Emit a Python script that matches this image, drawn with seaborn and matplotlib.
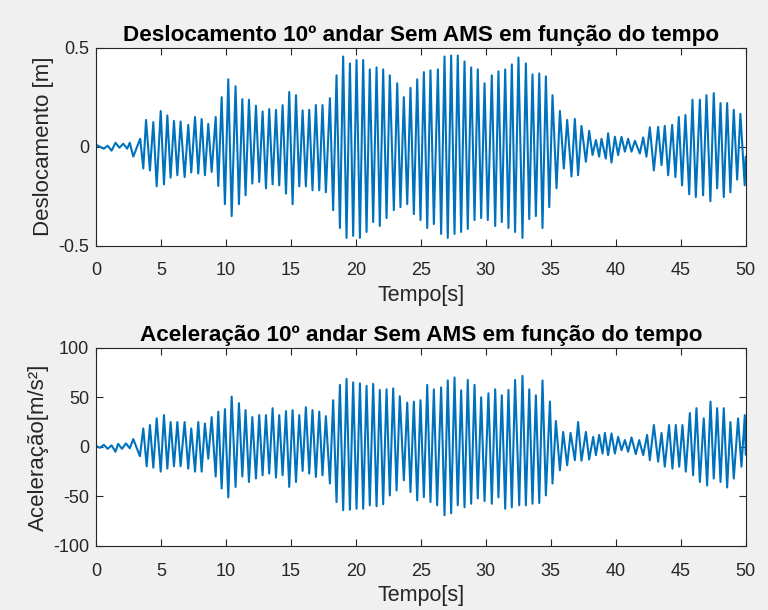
import numpy as np
import pandas as pd
import matplotlib
matplotlib.use("Agg")
import matplotlib.pyplot as plt
import seaborn as sns

# Extremes of the 10th-floor response (time [s], value), read in order along the record
desl_t = [
    0.0, 0.3, 0.6, 0.9, 1.2, 1.5, 1.8, 2.1, 2.4, 2.6, 2.87, 3.4, 3.64, 3.85,
    4.15, 4.41, 4.67, 4.98, 5.23, 5.49, 5.74, 6.0, 6.26, 6.51, 6.82, 7.1, 7.33, 7.62,
    7.87, 8.13, 8.38, 8.64, 8.9, 9.21, 9.41, 9.67, 9.92, 10.18, 10.44, 10.74, 11.0, 11.26,
    11.51, 11.77, 12.03, 12.31, 12.56, 12.82, 13.08, 13.33, 13.59, 13.85, 14.1, 14.36,
    14.62, 14.87, 15.13, 15.39, 15.64, 15.9, 16.15, 16.41, 16.66, 16.92, 17.18, 17.43,
    17.69, 18.0, 18.25, 18.51, 18.77, 19.02, 19.28, 19.54, 19.79, 20.05, 20.31, 20.56,
    20.82, 21.07, 21.33, 21.59, 21.84, 22.1, 22.36, 22.61, 22.92, 23.18, 23.43, 23.69,
    23.95, 24.2, 24.46, 24.72, 24.97, 25.23, 25.49, 25.74, 26.0, 26.31, 26.56, 26.82,
    27.07, 27.33, 27.59, 27.84, 28.1, 28.36, 28.61, 28.87, 29.13, 29.38, 29.64, 29.9,
    30.15, 30.46, 30.72, 30.97, 31.23, 31.49, 31.74, 32.0, 32.25, 32.51, 32.82, 33.08,
    33.34, 33.59, 33.85, 34.11, 34.36, 34.62, 34.88, 35.13, 35.44, 35.7, 36.0, 36.26,
    36.59, 36.85, 37.1, 37.36, 37.7, 37.95, 38.21, 38.47, 38.72, 38.9, 39.23, 39.41,
    39.67, 39.93, 40.18, 40.44, 40.7, 40.95, 41.21, 41.47, 41.85, 42.11, 42.36, 42.62,
    42.93, 43.26, 43.52, 43.77, 44.03, 44.34, 44.59, 44.85, 45.1, 45.36, 45.65, 45.9,
    46.16, 46.47, 46.72, 46.98, 47.28, 47.54, 47.8, 48.06, 48.31, 48.57, 48.82, 49.08,
    49.34, 49.59, 49.92, 50.0,
]
desl_v = [
    0.01, 0.0, -0.01, 0.005, -0.02, 0.02, -0.005, 0.015, -0.01, 0.02, -0.05, 0.04, -0.11, 0.135,
    -0.12, 0.124, -0.20, 0.18, -0.19, 0.158, -0.156, 0.13, -0.144, 0.127, -0.153, 0.11, -0.13, 0.15,
    -0.135, 0.14, -0.144, 0.115, -0.127, 0.15, -0.198, 0.25, -0.29, 0.34, -0.35, 0.305, -0.29, 0.24,
    -0.245, 0.237, -0.186, 0.207, -0.178, 0.178, -0.21, 0.19, -0.19, 0.186, -0.195, 0.21,
    -0.237, 0.276, -0.29, 0.26, -0.20, 0.183, -0.20, 0.186, -0.22, 0.21, -0.22, 0.21,
    -0.23, 0.245, -0.32, 0.36, -0.41, 0.455, -0.46, 0.42, -0.45, 0.437, -0.46, 0.437,
    -0.43, 0.39, -0.38, 0.40, -0.40, 0.39, -0.36, 0.36, -0.32, 0.32, -0.305, 0.25,
    -0.29, 0.297, -0.34, 0.34, -0.37, 0.376, -0.41, 0.385, -0.39, 0.39, -0.44, 0.455,
    -0.46, 0.46, -0.44, 0.46, -0.43, 0.43, -0.415, 0.40, -0.37, 0.39, -0.36, 0.32,
    -0.37, 0.36, -0.40, 0.38, -0.38, 0.39, -0.41, 0.415, -0.43, 0.45, -0.46, 0.42,
    -0.365, 0.365, -0.35, 0.37, -0.41, 0.355, -0.305, 0.26, -0.21, 0.18, -0.11, 0.135,
    -0.15, 0.14, -0.144, 0.105, -0.076, 0.08, -0.042, 0.034, -0.05, 0.04, -0.06, 0.068,
    -0.08, 0.05, -0.042, 0.05, -0.025, 0.04, -0.025, 0.03, -0.034, 0.047, -0.05, 0.098,
    -0.12, 0.10, -0.093, 0.105, -0.144, 0.11, -0.153, 0.15, -0.195, 0.16, -0.24, 0.237,
    -0.254, 0.237, -0.245, 0.26, -0.275, 0.27, -0.21, 0.22, -0.254, 0.22, -0.23, 0.186,
    -0.166, 0.166, -0.195, -0.05,
]

acel_t = [
    0.0, 0.3, 0.6, 0.9, 1.2, 1.5, 1.7, 2.0, 2.3, 2.6, 2.87, 3.38, 3.64, 3.9,
    4.15, 4.41, 4.67, 4.98, 5.23, 5.49, 5.74, 6.0, 6.26, 6.51, 6.82, 7.1, 7.33, 7.62,
    7.87, 8.13, 8.38, 8.64, 8.9, 9.21, 9.41, 9.67, 9.92, 10.18, 10.44, 10.74, 11.0, 11.26,
    11.51, 11.77, 12.03, 12.31, 12.56, 12.82, 13.08, 13.33, 13.59, 13.85, 14.1, 14.36,
    14.62, 14.87, 15.13, 15.39, 15.64, 15.9, 16.15, 16.41, 16.66, 16.92, 17.18, 17.43,
    17.69, 18.0, 18.25, 18.51, 18.77, 19.02, 19.28, 19.54, 19.79, 20.05, 20.31, 20.56,
    20.82, 21.07, 21.33, 21.59, 21.84, 22.1, 22.36, 22.61, 22.87, 23.13, 23.38, 23.69,
    23.95, 24.2, 24.46, 24.72, 24.97, 25.23, 25.49, 25.74, 26.0, 26.25, 26.56, 26.82,
    27.07, 27.33, 27.59, 27.84, 28.1, 28.36, 28.61, 28.87, 29.13, 29.38, 29.64, 29.9,
    30.2, 30.46, 30.72, 30.97, 31.23, 31.49, 31.74, 32.0, 32.25, 32.57, 32.82, 33.08,
    33.34, 33.59, 33.85, 34.11, 34.36, 34.62, 34.93, 35.13, 35.39, 35.7, 35.95, 36.26,
    36.52, 36.85, 37.1, 37.36, 37.7, 37.95, 38.26, 38.47, 38.72, 38.98, 39.16, 39.41,
    39.67, 39.93, 40.18, 40.44, 40.7, 40.95, 41.21, 41.54, 41.8, 42.11, 42.41, 42.62,
    42.93, 43.26, 43.52, 43.77, 44.1, 44.36, 44.62, 44.88, 45.13, 45.39, 45.7, 45.95,
    46.21, 46.47, 46.77, 47.03, 47.29, 47.54, 47.8, 48.06, 48.31, 48.57, 48.82, 49.08,
    49.41, 49.67, 49.93, 50.0,
]
acel_v = [
    1.0, -1.0, 2.0, -2.0, 1.5, -5.0, 3.0, -2.0, 3.5, -1.5, 7.8, -9.5, 18.6, -19.6,
    22.0, -21.0, 28.7, -25.0, 32.0, -22.0, 25.0, -19.6, 25.0, -19.6, 25.0, -22.0, 18.6, -25.0,
    25.0, -25.0, 23.6, -12.0, 30.0, -30.0, 35.5, -42.0, 38.0, -51.0, 50.7, -40.5, 44.0, -30.0,
    37.0, -35.5, 30.0, -32.0, 32.0, -28.7, 32.0, -27.0, 39.0, -31.0, 32.0, -28.7,
    36.0, -40.5, 37.0, -35.5, 32.0, -24.3, 40.0, -27.0, 37.0, -30.4, 35.5, -28.7,
    31.0, -37.0, 47.0, -55.7, 62.5, -64.0, 68.6, -63.5, 65.0, -62.5, 64.0, -62.5,
    61.5, -59.0, 63.5, -60.0, 57.4, -58.0, 58.0, -49.0, 59.0, -44.0, 51.0, -33.8,
    44.6, -45.6, 45.6, -54.0, 47.0, -50.7, 62.5, -55.7, 58.0, -59.0, 60.0, -69.0,
    67.0, -67.0, 70.0, -59.0, 57.0, -61.0, 67.5, -57.4, 62.5, -52.0, 50.0, -54.7,
    54.0, -57.4, 58.0, -51.0, 52.0, -62.5, 57.4, -61.0, 67.5, -59.0, 71.6, -59.0,
    58.0, -57.4, 52.0, -56.7, 67.0, -49.0, 45.6, -37.0, 26.0, -23.6, 15.0, -18.6,
    14.0, -13.5, 25.0, -14.0, 15.0, -12.8, 10.0, -8.4, 12.0, -6.8, 14.0, -8.4,
    13.5, -6.8, 10.0, -3.4, 6.8, -5.0, 9.5, -7.4, 6.8, -8.4, 12.0, -13.5,
    22.0, -15.0, 14.0, -20.0, 22.0, -22.0, 22.0, -20.0, 22.0, -25.0, 34.0, -28.7,
    39.0, -35.5, 28.7, -39.0, 45.6, -32.0, 39.0, -35.5, 39.0, -41.0, 25.0, -32.0,
    28.7, -20.0, 32.0, -8.0,
]

tick_x = [0, 5, 10, 15, 20, 25, 30, 35, 40, 45, 50]
desl = pd.DataFrame({"t": desl_t, "y": desl_v})
acel = pd.DataFrame({"t": acel_t, "y": acel_v})

sns.set_theme(style="white")
plt.rcParams["font.family"] = ["Liberation Sans", "DejaVu Sans"]

line_color = "#0072BD"
frame_color = "#262626"
fig = plt.figure(figsize=(7.68, 6.10), dpi=100, facecolor="#F0F0F0")
ax1 = fig.add_axes([0.125, 0.597, 0.846, 0.325])
ax2 = fig.add_axes([0.125, 0.105, 0.846, 0.325])

panels = [
    (ax1, desl, "Deslocamento 10º andar Sem AMS em função do tempo", "Deslocamento [m]",
     (-0.5, 0.5), [-0.5, 0, 0.5], ["-0.5", "0", "0.5"]),
    (ax2, acel, "Aceleração 10º andar Sem AMS em função do tempo", "Aceleração[m/s²]",
     (-100, 100), [-100, -50, 0, 50, 100], ["-100", "-50", "0", "50", "100"]),
]

for ax, df, title, ylabel, ylim, yt, ytl in panels:
    sns.lineplot(data=df, x="t", y="y", ax=ax, color=line_color, linewidth=1.5,
                 estimator=None, sort=False)
    ax.set_facecolor("white")
    ax.set_xlim(0, 50)
    ax.set_ylim(*ylim)
    ax.set_xticks(tick_x)
    ax.set_xticklabels([str(v) for v in tick_x])
    ax.set_yticks(yt)
    ax.set_yticklabels(ytl)
    ax.set_title(title, fontsize=16.2, fontweight="bold", color="black", pad=5)
    ax.set_xlabel("Tempo[s]", fontsize=15.5, color="#262626", labelpad=4)
    ax.set_ylabel(ylabel, fontsize=16, color="#262626", labelpad=3)
    ax.tick_params(direction="in", length=5, width=0.8, colors=frame_color,
                   labelsize=13, labelcolor="#262626", top=True, right=True,
                   bottom=True, left=True, pad=5)
    ax.tick_params(axis="x", pad=12)
    for s in ax.spines.values():
        s.set_visible(True)
        s.set_color(frame_color)
        s.set_linewidth(0.8)

fig.savefig("out.png", dpi=100, facecolor=fig.get_facecolor())
